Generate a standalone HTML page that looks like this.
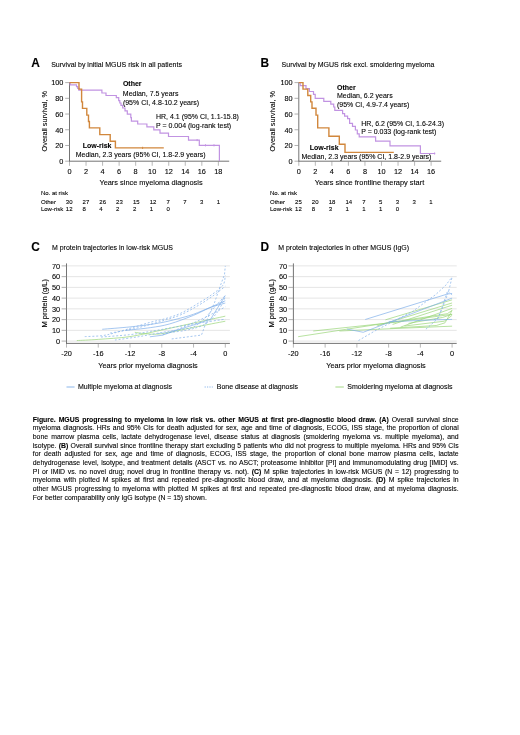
<!DOCTYPE html>
<html><head><meta charset="utf-8"><title>Figure</title>
<style>
html,body{margin:0;padding:0;background:#fff;}
body{width:520px;height:735px;position:relative;overflow:hidden;font-family:"Liberation Sans", sans-serif;}
#wrap{position:absolute;left:0;top:0;width:520px;height:735px;filter:blur(0.3px);}
svg{position:absolute;left:0;top:0;}
svg text{font-family:"Liberation Sans", sans-serif;stroke:#000;stroke-width:0.1px;}
#cap{position:absolute;left:32.8px;top:415.7px;width:425.9px;font-size:6.88px;line-height:8.68px;color:#000;-webkit-text-stroke:0.1px #000;}
#cap .l{text-align:justify;text-align-last:justify;white-space:nowrap;height:8.68px;}
#cap .last{text-align:left;text-align-last:left;}
</style></head><body><div id="wrap">
<svg width="520" height="735" viewBox="0 0 520 735">
<text x="31.3" y="67.2" font-size="11.9" font-weight="bold" text-anchor="start" fill="#000" >A</text>
<text x="51.2" y="66.7" font-size="7.01" text-anchor="start" fill="#000" >Survival by initial MGUS risk in all patients</text>
<line x1="69.5" y1="82.19999999999999" x2="69.5" y2="161.6" stroke="#505050" stroke-width="0.8"/>
<line x1="69.1" y1="161.2" x2="229.2" y2="161.2" stroke="#505050" stroke-width="0.8"/>
<line x1="65.2" y1="161.2" x2="69.5" y2="161.2" stroke="#8f8f8f" stroke-width="0.7"/>
<text x="63.4" y="163.95" font-size="7.35" text-anchor="end" fill="#000" >0</text>
<line x1="65.2" y1="145.48" x2="69.5" y2="145.48" stroke="#8f8f8f" stroke-width="0.7"/>
<text x="63.4" y="148.23" font-size="7.35" text-anchor="end" fill="#000" >20</text>
<line x1="65.2" y1="129.76" x2="69.5" y2="129.76" stroke="#8f8f8f" stroke-width="0.7"/>
<text x="63.4" y="132.51" font-size="7.35" text-anchor="end" fill="#000" >40</text>
<line x1="65.2" y1="114.03999999999999" x2="69.5" y2="114.03999999999999" stroke="#8f8f8f" stroke-width="0.7"/>
<text x="63.4" y="116.78999999999999" font-size="7.35" text-anchor="end" fill="#000" >60</text>
<line x1="65.2" y1="98.32" x2="69.5" y2="98.32" stroke="#8f8f8f" stroke-width="0.7"/>
<text x="63.4" y="101.07" font-size="7.35" text-anchor="end" fill="#000" >80</text>
<line x1="65.2" y1="82.6" x2="69.5" y2="82.6" stroke="#8f8f8f" stroke-width="0.7"/>
<text x="63.4" y="85.35" font-size="7.35" text-anchor="end" fill="#000" >100</text>
<line x1="69.5" y1="161.2" x2="69.5" y2="165.79999999999998" stroke="#8a8a8a" stroke-width="0.6"/>
<text x="69.5" y="174.0" font-size="7.35" text-anchor="middle" fill="#000" >0</text>
<line x1="86.03999999999999" y1="161.2" x2="86.03999999999999" y2="165.79999999999998" stroke="#8a8a8a" stroke-width="0.6"/>
<text x="86.03999999999999" y="174.0" font-size="7.35" text-anchor="middle" fill="#000" >2</text>
<line x1="102.58" y1="161.2" x2="102.58" y2="165.79999999999998" stroke="#8a8a8a" stroke-width="0.6"/>
<text x="102.58" y="174.0" font-size="7.35" text-anchor="middle" fill="#000" >4</text>
<line x1="119.12" y1="161.2" x2="119.12" y2="165.79999999999998" stroke="#8a8a8a" stroke-width="0.6"/>
<text x="119.12" y="174.0" font-size="7.35" text-anchor="middle" fill="#000" >6</text>
<line x1="135.66" y1="161.2" x2="135.66" y2="165.79999999999998" stroke="#8a8a8a" stroke-width="0.6"/>
<text x="135.66" y="174.0" font-size="7.35" text-anchor="middle" fill="#000" >8</text>
<line x1="152.2" y1="161.2" x2="152.2" y2="165.79999999999998" stroke="#8a8a8a" stroke-width="0.6"/>
<text x="152.2" y="174.0" font-size="7.35" text-anchor="middle" fill="#000" >10</text>
<line x1="168.74" y1="161.2" x2="168.74" y2="165.79999999999998" stroke="#8a8a8a" stroke-width="0.6"/>
<text x="168.74" y="174.0" font-size="7.35" text-anchor="middle" fill="#000" >12</text>
<line x1="185.28" y1="161.2" x2="185.28" y2="165.79999999999998" stroke="#8a8a8a" stroke-width="0.6"/>
<text x="185.28" y="174.0" font-size="7.35" text-anchor="middle" fill="#000" >14</text>
<line x1="201.82" y1="161.2" x2="201.82" y2="165.79999999999998" stroke="#8a8a8a" stroke-width="0.6"/>
<text x="201.82" y="174.0" font-size="7.35" text-anchor="middle" fill="#000" >16</text>
<line x1="218.35999999999999" y1="161.2" x2="218.35999999999999" y2="165.79999999999998" stroke="#8a8a8a" stroke-width="0.6"/>
<text x="218.35999999999999" y="174.0" font-size="7.35" text-anchor="middle" fill="#000" >18</text>
<text x="151" y="184.79999999999998" font-size="7.4" text-anchor="middle" fill="#000" >Years since myeloma diagnosis</text>
<text transform="translate(46.699999999999996,121.19999999999999) rotate(-90)" font-size="7.3" text-anchor="middle" fill="#000">Overall survival, %</text>
<polyline points="69.50,82.60 70.20,82.60 70.20,84.90 76.50,84.90 76.50,86.60 77.70,86.60 77.70,88.30 78.80,88.30 78.80,90.20 101.90,90.20 101.90,93.00 106.00,93.00 106.00,95.50 116.30,95.50 116.30,97.60 118.70,97.60 118.70,100.60 119.80,100.60 119.80,103.00 121.00,103.00 121.00,105.40 122.70,105.40 122.70,108.00 125.00,108.00 125.00,110.80 127.30,110.80 127.30,114.20 130.80,114.20 130.80,117.70 131.40,117.70 131.40,121.20 137.70,121.20 137.70,124.00 146.90,124.00 146.90,126.90 153.80,126.90 153.80,129.90 160.00,129.90 160.00,133.20 168.50,133.20 168.50,136.50 188.50,136.50 188.50,140.10 199.30,140.10 199.30,145.30 219.40,145.30 219.40,161.00" fill="none" stroke="#c193e2" stroke-width="1.2" />
<polyline points="69.50,82.60 79.00,82.60 79.00,89.10 81.60,89.10 81.60,101.90 82.50,101.90 82.50,108.40 86.80,108.40 86.80,115.10 88.50,115.10 88.50,121.50 89.40,121.50 89.40,127.90 99.80,127.90 99.80,134.60 110.20,134.60 110.20,141.30 115.40,141.30 115.40,147.90 163.80,147.90 163.80,147.90" fill="none" stroke="#d1873c" stroke-width="1.4" />
<line x1="197.1" y1="139.0" x2="197.1" y2="141.2" stroke="#c193e2" stroke-width="0.9"/>
<line x1="205.5" y1="144.20000000000002" x2="205.5" y2="146.4" stroke="#c193e2" stroke-width="0.9"/>
<line x1="214.0" y1="144.20000000000002" x2="214.0" y2="146.4" stroke="#c193e2" stroke-width="0.9"/>
<line x1="142.6" y1="146.8" x2="142.6" y2="149.0" stroke="#d1873c" stroke-width="0.9"/>
<text x="122.9" y="85.8" font-size="7.0" font-weight="bold" text-anchor="start" fill="#000" >Other</text>
<text x="122.8" y="96.4" font-size="7.0" text-anchor="start" fill="#000" >Median, 7.5 years</text>
<text x="122.9" y="104.9" font-size="7.0" text-anchor="start" fill="#000" >(95% CI, 4.8-10.2 years)</text>
<text x="156.0" y="118.6" font-size="7.0" text-anchor="start" fill="#000" >HR, 4.1 (95% CI, 1.1-15.8)</text>
<text x="156.0" y="127.8" font-size="7.0" text-anchor="start" fill="#000" >P = 0.004 (log-rank test)</text>
<text x="82.7" y="148.3" font-size="7.0" font-weight="bold" text-anchor="start" fill="#000" >Low-risk</text>
<text x="75.7" y="156.9" font-size="7.0" text-anchor="start" fill="#000" >Median, 2.3 years (95% CI, 1.8-2.9 years)</text>
<text x="40.9" y="195.0" font-size="6.0" text-anchor="start" fill="#000" >No. at risk</text>
<text x="40.9" y="203.65" font-size="6.0" text-anchor="start" fill="#000" >Other</text>
<text x="65.8" y="203.65" font-size="6.0" text-anchor="start" fill="#000" >30</text>
<text x="82.57" y="203.65" font-size="6.0" text-anchor="start" fill="#000" >27</text>
<text x="99.34" y="203.65" font-size="6.0" text-anchor="start" fill="#000" >26</text>
<text x="116.11" y="203.65" font-size="6.0" text-anchor="start" fill="#000" >23</text>
<text x="132.88" y="203.65" font-size="6.0" text-anchor="start" fill="#000" >15</text>
<text x="149.64999999999998" y="203.65" font-size="6.0" text-anchor="start" fill="#000" >12</text>
<text x="166.42000000000002" y="203.65" font-size="6.0" text-anchor="start" fill="#000" >7</text>
<text x="183.19" y="203.65" font-size="6.0" text-anchor="start" fill="#000" >7</text>
<text x="199.95999999999998" y="203.65" font-size="6.0" text-anchor="start" fill="#000" >3</text>
<text x="216.73000000000002" y="203.65" font-size="6.0" text-anchor="start" fill="#000" >1</text>
<text x="40.9" y="211.15" font-size="6.0" text-anchor="start" fill="#000" >Low-risk</text>
<text x="65.8" y="211.15" font-size="6.0" text-anchor="start" fill="#000" >12</text>
<text x="82.57" y="211.15" font-size="6.0" text-anchor="start" fill="#000" >8</text>
<text x="99.34" y="211.15" font-size="6.0" text-anchor="start" fill="#000" >4</text>
<text x="116.11" y="211.15" font-size="6.0" text-anchor="start" fill="#000" >2</text>
<text x="132.88" y="211.15" font-size="6.0" text-anchor="start" fill="#000" >2</text>
<text x="149.64999999999998" y="211.15" font-size="6.0" text-anchor="start" fill="#000" >1</text>
<text x="166.42000000000002" y="211.15" font-size="6.0" text-anchor="start" fill="#000" >0</text>
<text x="260.4" y="67.2" font-size="11.9" font-weight="bold" text-anchor="start" fill="#000" >B</text>
<text x="281.6" y="66.7" font-size="7.01" text-anchor="start" fill="#000" >Survival by MGUS risk excl. smoldering myeloma</text>
<line x1="298.8" y1="82.19999999999999" x2="298.8" y2="161.6" stroke="#505050" stroke-width="0.8"/>
<line x1="298.40000000000003" y1="161.2" x2="441.2" y2="161.2" stroke="#505050" stroke-width="0.8"/>
<line x1="294.5" y1="161.2" x2="298.8" y2="161.2" stroke="#8f8f8f" stroke-width="0.7"/>
<text x="292.7" y="163.95" font-size="7.35" text-anchor="end" fill="#000" >0</text>
<line x1="294.5" y1="145.48" x2="298.8" y2="145.48" stroke="#8f8f8f" stroke-width="0.7"/>
<text x="292.7" y="148.23" font-size="7.35" text-anchor="end" fill="#000" >20</text>
<line x1="294.5" y1="129.76" x2="298.8" y2="129.76" stroke="#8f8f8f" stroke-width="0.7"/>
<text x="292.7" y="132.51" font-size="7.35" text-anchor="end" fill="#000" >40</text>
<line x1="294.5" y1="114.03999999999999" x2="298.8" y2="114.03999999999999" stroke="#8f8f8f" stroke-width="0.7"/>
<text x="292.7" y="116.78999999999999" font-size="7.35" text-anchor="end" fill="#000" >60</text>
<line x1="294.5" y1="98.32" x2="298.8" y2="98.32" stroke="#8f8f8f" stroke-width="0.7"/>
<text x="292.7" y="101.07" font-size="7.35" text-anchor="end" fill="#000" >80</text>
<line x1="294.5" y1="82.6" x2="298.8" y2="82.6" stroke="#8f8f8f" stroke-width="0.7"/>
<text x="292.7" y="85.35" font-size="7.35" text-anchor="end" fill="#000" >100</text>
<line x1="298.8" y1="161.2" x2="298.8" y2="165.79999999999998" stroke="#8a8a8a" stroke-width="0.6"/>
<text x="298.8" y="174.0" font-size="7.35" text-anchor="middle" fill="#000" >0</text>
<line x1="315.34000000000003" y1="161.2" x2="315.34000000000003" y2="165.79999999999998" stroke="#8a8a8a" stroke-width="0.6"/>
<text x="315.34000000000003" y="174.0" font-size="7.35" text-anchor="middle" fill="#000" >2</text>
<line x1="331.88" y1="161.2" x2="331.88" y2="165.79999999999998" stroke="#8a8a8a" stroke-width="0.6"/>
<text x="331.88" y="174.0" font-size="7.35" text-anchor="middle" fill="#000" >4</text>
<line x1="348.42" y1="161.2" x2="348.42" y2="165.79999999999998" stroke="#8a8a8a" stroke-width="0.6"/>
<text x="348.42" y="174.0" font-size="7.35" text-anchor="middle" fill="#000" >6</text>
<line x1="364.96000000000004" y1="161.2" x2="364.96000000000004" y2="165.79999999999998" stroke="#8a8a8a" stroke-width="0.6"/>
<text x="364.96000000000004" y="174.0" font-size="7.35" text-anchor="middle" fill="#000" >8</text>
<line x1="381.5" y1="161.2" x2="381.5" y2="165.79999999999998" stroke="#8a8a8a" stroke-width="0.6"/>
<text x="381.5" y="174.0" font-size="7.35" text-anchor="middle" fill="#000" >10</text>
<line x1="398.04" y1="161.2" x2="398.04" y2="165.79999999999998" stroke="#8a8a8a" stroke-width="0.6"/>
<text x="398.04" y="174.0" font-size="7.35" text-anchor="middle" fill="#000" >12</text>
<line x1="414.58000000000004" y1="161.2" x2="414.58000000000004" y2="165.79999999999998" stroke="#8a8a8a" stroke-width="0.6"/>
<text x="414.58000000000004" y="174.0" font-size="7.35" text-anchor="middle" fill="#000" >14</text>
<line x1="431.12" y1="161.2" x2="431.12" y2="165.79999999999998" stroke="#8a8a8a" stroke-width="0.6"/>
<text x="431.12" y="174.0" font-size="7.35" text-anchor="middle" fill="#000" >16</text>
<text x="369.5" y="184.79999999999998" font-size="7.4" text-anchor="middle" fill="#000" >Years since frontline therapy start</text>
<text transform="translate(275.0,121.19999999999999) rotate(-90)" font-size="7.3" text-anchor="middle" fill="#000">Overall survival, %</text>
<polyline points="298.80,82.60 300.20,82.60 300.20,85.60 306.00,85.60 306.00,88.60 309.40,88.60 309.40,91.50 313.50,91.50 313.50,94.40 315.20,94.40 315.20,98.30 323.80,98.30 323.80,101.30 330.80,101.30 330.80,104.20 333.70,104.20 333.70,107.00 334.80,107.00 334.80,110.40 342.60,110.40 342.60,113.60 344.60,113.60 344.60,116.10 347.60,116.10 347.60,118.60 349.60,118.60 349.60,123.30 352.50,123.30 352.50,126.30 355.40,126.30 355.40,130.00 357.30,130.00 357.30,133.80 359.20,133.80 359.20,136.80 375.60,136.80 375.60,141.20 390.00,141.20 390.00,145.80 420.40,145.80 420.40,153.50 435.20,153.50 435.20,153.50" fill="none" stroke="#c193e2" stroke-width="1.2" />
<polyline points="298.80,82.60 303.00,82.60 303.00,89.10 307.80,89.10 307.80,95.50 310.70,95.50 310.70,101.90 312.00,101.90 312.00,108.30 316.00,108.30 316.00,115.10 317.70,115.10 317.70,127.90 328.90,127.90 328.90,136.30 339.30,136.30 339.30,144.20 345.00,144.20 345.00,152.40 393.80,152.40 393.80,152.40" fill="none" stroke="#d1873c" stroke-width="1.4" />
<line x1="434.6" y1="152.4" x2="434.6" y2="154.6" stroke="#c193e2" stroke-width="0.9"/>
<text x="337.0" y="89.7" font-size="7.0" font-weight="bold" text-anchor="start" fill="#000" >Other</text>
<text x="337.0" y="97.9" font-size="7.0" text-anchor="start" fill="#000" >Median, 6.2 years</text>
<text x="337.0" y="106.9" font-size="7.0" text-anchor="start" fill="#000" >(95% CI, 4.9-7.4 years)</text>
<text x="361.2" y="125.9" font-size="7.0" text-anchor="start" fill="#000" >HR, 6.2 (95% CI, 1.6-24.3)</text>
<text x="361.2" y="134.3" font-size="7.0" text-anchor="start" fill="#000" >P = 0.033 (log-rank test)</text>
<text x="309.8" y="150.0" font-size="7.0" font-weight="bold" text-anchor="start" fill="#000" >Low-risk</text>
<text x="301.5" y="158.6" font-size="7.0" text-anchor="start" fill="#000" >Median, 2.3 years (95% CI, 1.8-2.9 years)</text>
<text x="270.0" y="195.0" font-size="6.0" text-anchor="start" fill="#000" >No. at risk</text>
<text x="270.0" y="203.65" font-size="6.0" text-anchor="start" fill="#000" >Other</text>
<text x="295.1" y="203.65" font-size="6.0" text-anchor="start" fill="#000" >25</text>
<text x="311.87" y="203.65" font-size="6.0" text-anchor="start" fill="#000" >20</text>
<text x="328.64000000000004" y="203.65" font-size="6.0" text-anchor="start" fill="#000" >18</text>
<text x="345.41" y="203.65" font-size="6.0" text-anchor="start" fill="#000" >14</text>
<text x="362.18" y="203.65" font-size="6.0" text-anchor="start" fill="#000" >7</text>
<text x="378.95000000000005" y="203.65" font-size="6.0" text-anchor="start" fill="#000" >5</text>
<text x="395.72" y="203.65" font-size="6.0" text-anchor="start" fill="#000" >3</text>
<text x="412.49" y="203.65" font-size="6.0" text-anchor="start" fill="#000" >3</text>
<text x="429.26" y="203.65" font-size="6.0" text-anchor="start" fill="#000" >1</text>
<text x="270.0" y="211.15" font-size="6.0" text-anchor="start" fill="#000" >Low-risk</text>
<text x="295.1" y="211.15" font-size="6.0" text-anchor="start" fill="#000" >12</text>
<text x="311.87" y="211.15" font-size="6.0" text-anchor="start" fill="#000" >8</text>
<text x="328.64000000000004" y="211.15" font-size="6.0" text-anchor="start" fill="#000" >3</text>
<text x="345.41" y="211.15" font-size="6.0" text-anchor="start" fill="#000" >1</text>
<text x="362.18" y="211.15" font-size="6.0" text-anchor="start" fill="#000" >1</text>
<text x="378.95000000000005" y="211.15" font-size="6.0" text-anchor="start" fill="#000" >1</text>
<text x="395.72" y="211.15" font-size="6.0" text-anchor="start" fill="#000" >0</text>
<text x="31.200000000000003" y="250.9" font-size="11.9" font-weight="bold" text-anchor="start" fill="#000" >C</text>
<text x="52.0" y="250.4" font-size="6.98" text-anchor="start" fill="#000" >M protein trajectories in low-risk MGUS</text>
<line x1="66.5" y1="341.1" x2="229.9" y2="341.1" stroke="#dedede" stroke-width="0.8"/>
<line x1="66.5" y1="330.355" x2="229.9" y2="330.355" stroke="#dedede" stroke-width="0.8"/>
<line x1="66.5" y1="319.61" x2="229.9" y2="319.61" stroke="#dedede" stroke-width="0.8"/>
<line x1="66.5" y1="308.865" x2="229.9" y2="308.865" stroke="#dedede" stroke-width="0.8"/>
<line x1="66.5" y1="298.12" x2="229.9" y2="298.12" stroke="#dedede" stroke-width="0.8"/>
<line x1="66.5" y1="287.375" x2="229.9" y2="287.375" stroke="#dedede" stroke-width="0.8"/>
<line x1="66.5" y1="276.63" x2="229.9" y2="276.63" stroke="#dedede" stroke-width="0.8"/>
<line x1="66.5" y1="265.885" x2="229.9" y2="265.885" stroke="#dedede" stroke-width="0.8"/>
<line x1="66.5" y1="263.4" x2="66.5" y2="343.79999999999995" stroke="#505050" stroke-width="0.8"/>
<line x1="66.1" y1="343.4" x2="229.9" y2="343.4" stroke="#505050" stroke-width="0.8"/>
<line x1="61.6" y1="341.1" x2="66.5" y2="341.1" stroke="#8f8f8f" stroke-width="0.7"/>
<text x="60.2" y="343.85" font-size="7.35" text-anchor="end" fill="#000" >0</text>
<line x1="61.6" y1="330.355" x2="66.5" y2="330.355" stroke="#8f8f8f" stroke-width="0.7"/>
<text x="60.2" y="333.105" font-size="7.35" text-anchor="end" fill="#000" >10</text>
<line x1="61.6" y1="319.61" x2="66.5" y2="319.61" stroke="#8f8f8f" stroke-width="0.7"/>
<text x="60.2" y="322.36" font-size="7.35" text-anchor="end" fill="#000" >20</text>
<line x1="61.6" y1="308.865" x2="66.5" y2="308.865" stroke="#8f8f8f" stroke-width="0.7"/>
<text x="60.2" y="311.615" font-size="7.35" text-anchor="end" fill="#000" >30</text>
<line x1="61.6" y1="298.12" x2="66.5" y2="298.12" stroke="#8f8f8f" stroke-width="0.7"/>
<text x="60.2" y="300.87" font-size="7.35" text-anchor="end" fill="#000" >40</text>
<line x1="61.6" y1="287.375" x2="66.5" y2="287.375" stroke="#8f8f8f" stroke-width="0.7"/>
<text x="60.2" y="290.125" font-size="7.35" text-anchor="end" fill="#000" >50</text>
<line x1="61.6" y1="276.63" x2="66.5" y2="276.63" stroke="#8f8f8f" stroke-width="0.7"/>
<text x="60.2" y="279.38" font-size="7.35" text-anchor="end" fill="#000" >60</text>
<line x1="61.6" y1="265.885" x2="66.5" y2="265.885" stroke="#8f8f8f" stroke-width="0.7"/>
<text x="60.2" y="268.635" font-size="7.35" text-anchor="end" fill="#000" >70</text>
<line x1="66.5" y1="343.4" x2="66.5" y2="347.59999999999997" stroke="#8a8a8a" stroke-width="0.6"/>
<text x="66.5" y="355.79999999999995" font-size="7.35" text-anchor="middle" fill="#000" >-20</text>
<line x1="98.26" y1="343.4" x2="98.26" y2="347.59999999999997" stroke="#8a8a8a" stroke-width="0.6"/>
<text x="98.26" y="355.79999999999995" font-size="7.35" text-anchor="middle" fill="#000" >-16</text>
<line x1="130.02" y1="343.4" x2="130.02" y2="347.59999999999997" stroke="#8a8a8a" stroke-width="0.6"/>
<text x="130.02" y="355.79999999999995" font-size="7.35" text-anchor="middle" fill="#000" >-12</text>
<line x1="161.78" y1="343.4" x2="161.78" y2="347.59999999999997" stroke="#8a8a8a" stroke-width="0.6"/>
<text x="161.78" y="355.79999999999995" font-size="7.35" text-anchor="middle" fill="#000" >-8</text>
<line x1="193.54000000000002" y1="343.4" x2="193.54000000000002" y2="347.59999999999997" stroke="#8a8a8a" stroke-width="0.6"/>
<text x="193.54000000000002" y="355.79999999999995" font-size="7.35" text-anchor="middle" fill="#000" >-4</text>
<line x1="225.3" y1="343.4" x2="225.3" y2="347.59999999999997" stroke="#8a8a8a" stroke-width="0.6"/>
<text x="225.3" y="355.79999999999995" font-size="7.35" text-anchor="middle" fill="#000" >0</text>
<text x="148" y="367.9" font-size="7.3" text-anchor="middle" fill="#000" >Years prior myeloma diagnosis</text>
<text transform="translate(47.2,303.29999999999995) rotate(-90)" font-size="7.45" text-anchor="middle" fill="#000">M protein (g/L)</text>
<path d="M76.82,340.56 C80.40,340.37 89.39,340.04 98.26,339.38 C107.13,338.72 119.43,338.15 130.02,336.59 C140.61,335.03 151.19,332.29 161.78,330.03 C172.37,327.78 182.95,325.36 193.54,323.05 C204.13,320.74 220.01,317.32 225.30,316.17" fill="none" stroke="#9ad578" stroke-width="0.7"/>
<path d="M134.78,332.29 C136.64,332.54 141.40,333.56 145.90,333.79 C150.40,334.03 153.84,334.76 161.78,333.69 C169.72,332.61 182.95,329.42 193.54,327.35 C204.13,325.27 220.01,322.24 225.30,321.22" fill="none" stroke="#9ad578" stroke-width="0.7"/>
<path d="M102.23,329.28 C106.86,328.89 122.01,327.72 130.02,326.92 C138.03,326.11 144.31,325.30 150.27,324.45 C156.22,323.59 160.66,322.83 165.75,321.76 C170.84,320.68 176.20,319.25 180.84,318.00 C185.47,316.74 188.45,316.05 193.54,314.24 C198.63,312.43 206.11,309.01 211.41,307.15 C216.70,305.28 222.98,303.74 225.30,303.06" fill="none" stroke="#7fafe9" stroke-width="0.7"/>
<path d="M126.05,330.36 C130.09,329.91 142.99,328.74 150.27,327.67 C157.55,326.59 162.51,325.97 169.72,323.91 C176.93,321.85 186.92,318.00 193.54,315.31 C200.16,312.63 204.13,310.21 209.42,307.79 C214.71,305.37 222.65,301.97 225.30,300.81" fill="none" stroke="#7fafe9" stroke-width="0.7"/>
<polyline points="149.87,336.80 162.57,335.19 180.84,328.85 195.92,324.23 210.61,319.18 225.30,295.43" fill="none" stroke="#7fafe9" stroke-width="0.7" />
<path d="M84.76,336.59 C87.54,336.44 96.54,336.32 101.44,335.73 C106.33,335.14 109.11,334.35 114.14,333.04 C119.17,331.73 125.59,329.67 131.61,327.88 C137.63,326.09 144.58,323.85 150.27,322.30 C155.96,320.74 160.66,320.06 165.75,318.54 C170.84,317.01 175.77,315.49 180.84,313.16 C185.90,310.83 191.07,307.61 196.16,304.57 C201.26,301.52 206.95,298.12 211.41,294.90 C215.86,291.67 220.60,288.45 222.92,285.23 C225.23,282.00 224.90,277.17 225.30,275.56" fill="none" stroke="#7fafe9" stroke-width="0.7" stroke-dasharray="2.0,1.8"/>
<path d="M110.17,333.04 C113.74,332.41 124.93,330.71 131.61,329.28 C138.29,327.85 144.44,326.06 150.27,324.45 C156.09,322.83 161.45,321.22 166.54,319.61 C171.64,318.00 175.90,316.92 180.84,314.77 C185.77,312.63 191.07,309.67 196.16,306.72 C201.26,303.76 206.55,300.45 211.41,297.05 C216.26,293.64 222.98,288.09 225.30,286.30" fill="none" stroke="#7fafe9" stroke-width="0.7" stroke-dasharray="2.0,1.8"/>
<polyline points="171.70,338.95 201.48,335.08 207.83,317.68 214.58,302.42 220.54,285.23 224.51,274.48 225.30,265.88" fill="none" stroke="#7fafe9" stroke-width="0.7" stroke-dasharray="2.0,1.8" />
<path d="M162.57,334.87 C165.62,333.72 175.28,330.18 180.84,327.99 C186.39,325.81 190.83,324.05 195.92,321.76 C201.02,319.47 206.51,316.71 211.41,314.24 C216.30,311.77 222.98,308.15 225.30,306.93" fill="none" stroke="#7fafe9" stroke-width="0.7" stroke-dasharray="2.0,1.8"/>
<path d="M101.04,337.02 C105.87,336.62 121.82,335.58 130.02,334.65 C138.22,333.72 141.80,332.86 150.27,331.43 C158.74,330.00 171.90,327.58 180.84,326.06 C189.77,324.53 196.45,323.44 203.86,322.30 C211.27,321.15 221.73,319.70 225.30,319.18" fill="none" stroke="#7fafe9" stroke-width="0.7" stroke-dasharray="2.0,1.8"/>
<path d="M114.93,340.03 C118.77,339.49 130.15,338.06 137.96,336.80 C145.77,335.55 154.50,333.76 161.78,332.50 C169.06,331.25 176.34,330.21 181.63,329.28 C186.92,328.35 189.83,328.60 193.54,326.92 C197.25,325.23 200.36,322.48 203.86,319.18 C207.37,315.89 211.01,311.10 214.58,307.15 C218.15,303.19 223.51,297.39 225.30,295.43" fill="none" stroke="#7fafe9" stroke-width="0.7" stroke-dasharray="2.0,1.8"/>
<path d="M157.81,333.58 C162.44,333.04 177.66,331.97 185.60,330.36 C193.54,328.74 200.16,326.95 205.45,323.91 C210.74,320.86 214.05,316.57 217.36,312.09 C220.67,307.61 223.98,299.55 225.30,297.05" fill="none" stroke="#7fafe9" stroke-width="0.7" stroke-dasharray="2.0,1.8"/>
<text x="260.40000000000003" y="250.9" font-size="11.9" font-weight="bold" text-anchor="start" fill="#000" >D</text>
<text x="278.2" y="250.4" font-size="6.98" text-anchor="start" fill="#000" >M protein trajectories in other MGUS (IgG)</text>
<line x1="293.4" y1="341.1" x2="456.7" y2="341.1" stroke="#dedede" stroke-width="0.8"/>
<line x1="293.4" y1="330.355" x2="456.7" y2="330.355" stroke="#dedede" stroke-width="0.8"/>
<line x1="293.4" y1="319.61" x2="456.7" y2="319.61" stroke="#dedede" stroke-width="0.8"/>
<line x1="293.4" y1="308.865" x2="456.7" y2="308.865" stroke="#dedede" stroke-width="0.8"/>
<line x1="293.4" y1="298.12" x2="456.7" y2="298.12" stroke="#dedede" stroke-width="0.8"/>
<line x1="293.4" y1="287.375" x2="456.7" y2="287.375" stroke="#dedede" stroke-width="0.8"/>
<line x1="293.4" y1="276.63" x2="456.7" y2="276.63" stroke="#dedede" stroke-width="0.8"/>
<line x1="293.4" y1="265.885" x2="456.7" y2="265.885" stroke="#dedede" stroke-width="0.8"/>
<line x1="293.4" y1="263.4" x2="293.4" y2="343.79999999999995" stroke="#505050" stroke-width="0.8"/>
<line x1="293.0" y1="343.4" x2="456.7" y2="343.4" stroke="#505050" stroke-width="0.8"/>
<line x1="288.5" y1="341.1" x2="293.4" y2="341.1" stroke="#8f8f8f" stroke-width="0.7"/>
<text x="287.09999999999997" y="343.85" font-size="7.35" text-anchor="end" fill="#000" >0</text>
<line x1="288.5" y1="330.355" x2="293.4" y2="330.355" stroke="#8f8f8f" stroke-width="0.7"/>
<text x="287.09999999999997" y="333.105" font-size="7.35" text-anchor="end" fill="#000" >10</text>
<line x1="288.5" y1="319.61" x2="293.4" y2="319.61" stroke="#8f8f8f" stroke-width="0.7"/>
<text x="287.09999999999997" y="322.36" font-size="7.35" text-anchor="end" fill="#000" >20</text>
<line x1="288.5" y1="308.865" x2="293.4" y2="308.865" stroke="#8f8f8f" stroke-width="0.7"/>
<text x="287.09999999999997" y="311.615" font-size="7.35" text-anchor="end" fill="#000" >30</text>
<line x1="288.5" y1="298.12" x2="293.4" y2="298.12" stroke="#8f8f8f" stroke-width="0.7"/>
<text x="287.09999999999997" y="300.87" font-size="7.35" text-anchor="end" fill="#000" >40</text>
<line x1="288.5" y1="287.375" x2="293.4" y2="287.375" stroke="#8f8f8f" stroke-width="0.7"/>
<text x="287.09999999999997" y="290.125" font-size="7.35" text-anchor="end" fill="#000" >50</text>
<line x1="288.5" y1="276.63" x2="293.4" y2="276.63" stroke="#8f8f8f" stroke-width="0.7"/>
<text x="287.09999999999997" y="279.38" font-size="7.35" text-anchor="end" fill="#000" >60</text>
<line x1="288.5" y1="265.885" x2="293.4" y2="265.885" stroke="#8f8f8f" stroke-width="0.7"/>
<text x="287.09999999999997" y="268.635" font-size="7.35" text-anchor="end" fill="#000" >70</text>
<line x1="293.4" y1="343.4" x2="293.4" y2="347.59999999999997" stroke="#8a8a8a" stroke-width="0.6"/>
<text x="293.4" y="355.79999999999995" font-size="7.35" text-anchor="middle" fill="#000" >-20</text>
<line x1="325.14" y1="343.4" x2="325.14" y2="347.59999999999997" stroke="#8a8a8a" stroke-width="0.6"/>
<text x="325.14" y="355.79999999999995" font-size="7.35" text-anchor="middle" fill="#000" >-16</text>
<line x1="356.88" y1="343.4" x2="356.88" y2="347.59999999999997" stroke="#8a8a8a" stroke-width="0.6"/>
<text x="356.88" y="355.79999999999995" font-size="7.35" text-anchor="middle" fill="#000" >-12</text>
<line x1="388.62" y1="343.4" x2="388.62" y2="347.59999999999997" stroke="#8a8a8a" stroke-width="0.6"/>
<text x="388.62" y="355.79999999999995" font-size="7.35" text-anchor="middle" fill="#000" >-8</text>
<line x1="420.35999999999996" y1="343.4" x2="420.35999999999996" y2="347.59999999999997" stroke="#8a8a8a" stroke-width="0.6"/>
<text x="420.35999999999996" y="355.79999999999995" font-size="7.35" text-anchor="middle" fill="#000" >-4</text>
<line x1="452.09999999999997" y1="343.4" x2="452.09999999999997" y2="347.59999999999997" stroke="#8a8a8a" stroke-width="0.6"/>
<text x="452.09999999999997" y="355.79999999999995" font-size="7.35" text-anchor="middle" fill="#000" >0</text>
<text x="376" y="367.9" font-size="7.3" text-anchor="middle" fill="#000" >Years prior myeloma diagnosis</text>
<text transform="translate(274.09999999999997,303.29999999999995) rotate(-90)" font-size="7.45" text-anchor="middle" fill="#000">M protein (g/L)</text>
<polyline points="298.16,336.69 394.97,321.76 447.34,313.70 452.10,310.37" fill="none" stroke="#9ad578" stroke-width="0.7" />
<polyline points="313.24,331.00 394.97,322.30 452.10,314.24" fill="none" stroke="#9ad578" stroke-width="0.7" />
<polyline points="339.42,331.00 394.97,328.53 452.10,326.16" fill="none" stroke="#9ad578" stroke-width="0.7" />
<polyline points="385.45,319.82 452.10,299.84" fill="none" stroke="#9ad578" stroke-width="0.7" />
<polyline points="376.72,326.06 452.10,302.96" fill="none" stroke="#9ad578" stroke-width="0.7" />
<polyline points="392.59,324.45 452.10,305.21" fill="none" stroke="#9ad578" stroke-width="0.7" />
<polyline points="400.52,327.13 452.10,308.33" fill="none" stroke="#9ad578" stroke-width="0.7" />
<polyline points="390.21,328.21 436.23,325.52 444.96,322.83 448.13,317.46 452.10,310.37" fill="none" stroke="#9ad578" stroke-width="0.7" />
<polyline points="404.49,326.06 444.16,321.22 448.13,318.54 452.10,315.31" fill="none" stroke="#9ad578" stroke-width="0.7" />
<polyline points="408.46,323.37 442.58,317.46 452.10,314.24" fill="none" stroke="#9ad578" stroke-width="0.7" />
<polyline points="365.21,319.50 447.34,294.04 452.10,293.50" fill="none" stroke="#7fafe9" stroke-width="0.7" />
<polyline points="346.96,329.07 363.23,332.29 452.10,298.12" fill="none" stroke="#7fafe9" stroke-width="0.7" />
<polyline points="388.62,321.76 436.23,319.82 452.10,319.40" fill="none" stroke="#7fafe9" stroke-width="0.7" />
<polyline points="433.85,319.82 438.61,317.46 447.74,290.60 452.10,294.90" fill="none" stroke="#7fafe9" stroke-width="0.7" stroke-dasharray="2.0,1.8" />
<polyline points="358.47,340.56 375.13,330.78 412.42,311.55 435.83,294.47 445.75,285.23 452.10,276.95" fill="none" stroke="#7fafe9" stroke-width="0.7" stroke-dasharray="2.0,1.8" />
<polyline points="425.91,329.17 437.42,318.97 442.58,307.79 448.69,291.14 452.10,276.95" fill="none" stroke="#7fafe9" stroke-width="0.7" stroke-dasharray="2.0,1.8" />
<line x1="66.5" y1="387.0" x2="74.6" y2="387.0" stroke="#7fafe9" stroke-width="0.9"/>
<text x="78.0" y="389.4" font-size="7.03" text-anchor="start" fill="#000" >Multiple myeloma at diagnosis</text>
<line x1="204.6" y1="387" x2="212.8" y2="387" stroke="#7fafe9" stroke-width="0.9" stroke-dasharray="1.2,1.2"/>
<text x="216.8" y="389.4" font-size="6.96" text-anchor="start" fill="#000" >Bone disease at diagnosis</text>
<line x1="335.4" y1="387.0" x2="343.8" y2="387.0" stroke="#9ad578" stroke-width="0.9"/>
<text x="347.3" y="389.4" font-size="7.03" text-anchor="start" fill="#000" >Smoldering myeloma at diagnosis</text>
</svg>
<div id="cap"><div class="l"><b>Figure. MGUS progressing to myeloma in low risk vs. other MGUS at first pre-diagnostic blood draw. (A)</b> Overall survival since</div><div class="l">myeloma diagnosis. HRs and 95% CIs for death adjusted for sex, age and time of diagnosis, ECOG, ISS stage, the proportion of clonal</div><div class="l">bone marrow plasma cells, lactate dehydrogenase level, disease status at diagnosis (smoldering myeloma vs. multiple myeloma), and</div><div class="l">isotype. <b>(B)</b> Overall survival since frontline therapy start excluding 5 patients who did not progress to multiple myeloma. HRs and 95% CIs</div><div class="l">for death adjusted for sex, age and time of diagnosis, ECOG, ISS stage, the proportion of clonal bone marrow plasma cells, lactate</div><div class="l">dehydrogenase level, isotype, and treatment details (ASCT vs. no ASCT; proteasome inhibitor [PI] and immunomodulating drug [IMiD] vs.</div><div class="l">PI or IMiD vs. no novel drug; novel drug in frontline therapy vs. not). <b>(C)</b> M spike trajectories in low-risk MGUS (N = 12) progressing to</div><div class="l">myeloma with plotted M spikes at first and repeated pre-diagnostic blood draw, and at myeloma diagnosis. <b>(D)</b> M spike trajectories in</div><div class="l">other MGUS progressing to myeloma with plotted M spikes at first and repeated pre-diagnostic blood draw, and at myeloma diagnosis.</div><div class="l last">For better comparability only IgG isotype (N = 15) shown.</div></div>
</div></body></html>
